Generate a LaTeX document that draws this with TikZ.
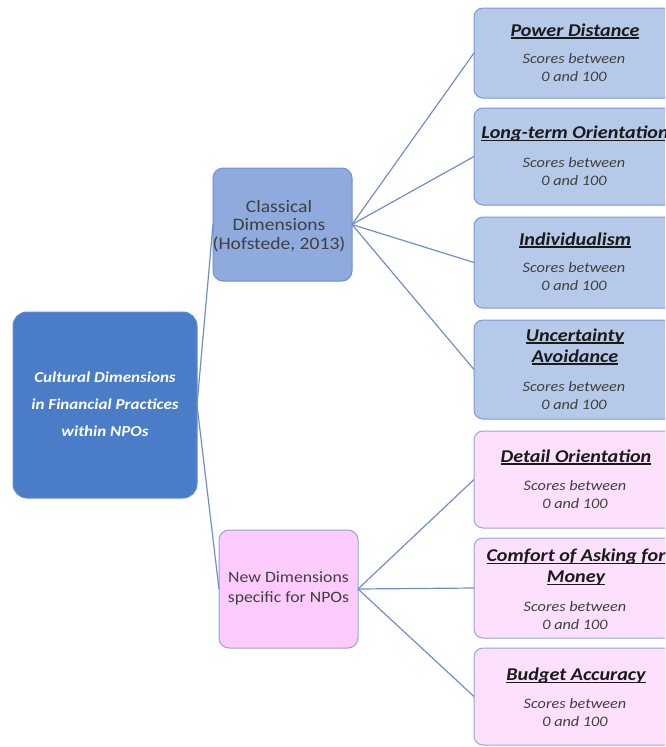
\documentclass[tikz,border=0pt]{standalone}
\usepackage{fontspec}
\setmainfont[FakeStretch=1.12]{Carlito}
\definecolor{rootfill}{RGB}{74,124,200}
\definecolor{rootline}{RGB}{96,142,214}
\definecolor{classfill}{RGB}{143,170,220}
\definecolor{classline}{RGB}{110,145,212}
\definecolor{dimfill}{RGB}{182,201,233}
\definecolor{dimline}{RGB}{120,152,216}
\definecolor{newfill}{RGB}{253,204,253}
\definecolor{newline}{RGB}{140,165,222}
\definecolor{pinkfill}{RGB}{252,224,252}
\definecolor{pinkline}{RGB}{150,165,224}
\definecolor{linkcol}{RGB}{112,142,206}
\definecolor{txtgray}{RGB}{64,64,64}
\definecolor{txtdark}{RGB}{26,26,26}
% underline set just below the baseline, independent of descenders
\newcommand\ulx[1]{\setbox0\hbox{#1}\rlap{\rule[-2.6pt]{\wd0}{1.2pt}}\box0}
\begin{document}
\begin{tikzpicture}[x=1pt,y=-1pt,
  base/.style={draw, line width=1pt, inner sep=0pt, outer sep=0pt},
  rootbox/.style={base, fill=rootfill, draw=rootline, rounded corners=14pt,
    minimum width=184pt, minimum height=186pt},
  groupbox/.style={base, rounded corners=10pt, minimum width=139pt},
  dimbox/.style={base, rounded corners=9pt, minimum width=200pt},
  bluedim/.style={dimbox, fill=dimfill, draw=dimline},
  pinkdim/.style={dimbox, fill=pinkfill, draw=pinkline},
  title/.style={inner sep=0pt, align=center, text=txtdark,
    font=\fontsize{18}{21}\selectfont\bfseries\itshape},
  sub/.style={inner sep=0pt, align=center, text=txtgray,
    font=\fontsize{14.5}{18}\selectfont\itshape},
  link/.style={draw=linkcol, line width=1.2pt}
]
\useasboundingbox (0,0) rectangle (665,747);
\clip (0,0) rectangle (665,747);

% root and the two groups
\node[rootbox] (root) at (105,405) {};
\node[inner sep=0pt, align=center, text=white,
  font=\fontsize{15.2}{27}\selectfont\bfseries\itshape] (roottxt) at (105,404)
  {Cultural Dimensions\\in Financial Practices\\within NPOs};

\node[groupbox, fill=classfill, draw=classline, minimum height=113pt] (classic) at (282.5,224.5) {};
\node[inner sep=0pt, align=center, text=txtgray,
  font=\fontsize{17.5}{18.5}\selectfont] (classtxt) at (279,226)
  {Classical\\Dimensions\\(Hofstede, 2013)};

\node[groupbox, fill=newfill, draw=newline, minimum height=118pt] (newdim) at (288.5,589) {};
\node[inner sep=0pt, align=center, text=txtgray,
  font=\fontsize{15.8}{20}\selectfont] (newtxt) at (288.5,588.5)
  {New Dimensions\\specific for NPOs};

% classical dimensions
\node[bluedim, minimum height=90pt] (pd) at (574,53) {};
\node[title] (pdt) at (575,31) {\ulx{Power Distance}};
\node[sub] (pds) at (574,68) {Scores between\\0 and 100};

\node[bluedim, minimum height=97pt] (lt) at (574,156.5) {};
\node[title] (ltt) at (575,134) {\ulx{Long-term Orientation}};
\node[sub] (lts) at (574,171.5) {Scores between\\0 and 100};

\node[bluedim, minimum height=91pt] (ind) at (574,262.5) {};
\node[title] (indt) at (575,240) {\ulx{Individualism}};
\node[sub] (inds) at (574,277) {Scores between\\0 and 100};

\node[bluedim, minimum height=99pt] (ua) at (574,369.5) {};
\node[title] (uat) at (575,346.5) {\ulx{Uncertainty}\\\ulx{Avoidance}};
\node[sub] (uas) at (574,395.5) {Scores between\\0 and 100};

% new dimensions
\node[pinkdim, minimum height=97pt] (do) at (574,479.5) {};
\node[title] (dot) at (576,457) {\ulx{Detail Orientation}};
\node[sub] (dos) at (575,495) {Scores between\\0 and 100};

\node[pinkdim, minimum height=100pt] (cam) at (574,588) {};
\node[title] (camt) at (576,567) {\ulx{Comfort of Asking for}\\\ulx{Money}};
\node[sub] (cams) at (575,615.5) {Scores between\\0 and 100};

\node[pinkdim, minimum height=97pt] (ba) at (574,696.5) {};
\node[title] (bat) at (576,676) {\ulx{Budget Accuracy}};
\node[sub] (bas) at (575,713) {Scores between\\0 and 100};

% connectors
\draw[link] (root.east) -- (classic.west);
\draw[link] (root.east) -- (newdim.west);
\foreach \t in {pd,lt,ind,ua}
  \draw[link] (classic.east) -- (\t.west);
\foreach \t in {do,cam,ba}
  \draw[link] (newdim.east) -- (\t.west);
\end{tikzpicture}
\end{document}
